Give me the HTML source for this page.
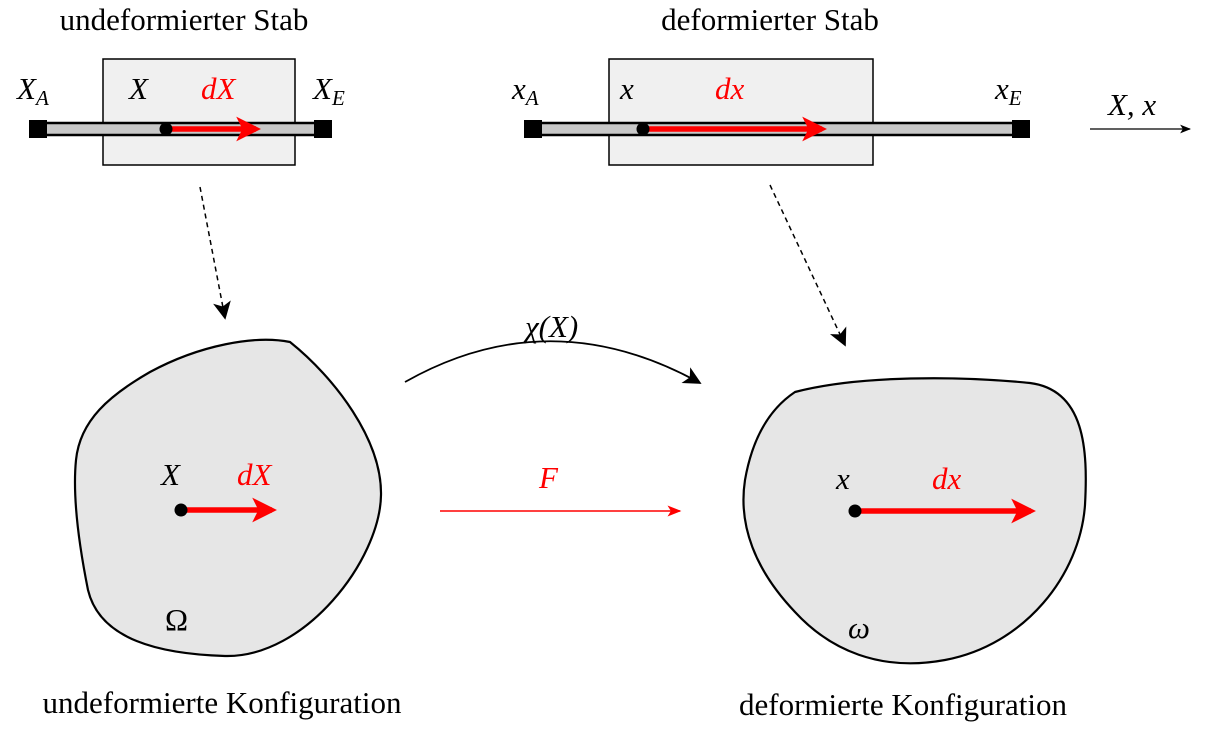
<!DOCTYPE html>
<html><head><meta charset="utf-8"><style>
html,body{margin:0;padding:0;background:#fff;}
svg{display:block;}
text{font-family:"Liberation Serif",serif;font-size:31px;fill:#000;}
.it{font-style:italic;}
.red{fill:#ff0000;}
</style></head><body>
<svg width="1208" height="731" viewBox="0 0 1208 731">
<defs>
<marker id="redHead" viewBox="0 0 10 10" refX="8" refY="5" markerWidth="4.5" markerHeight="4.5" orient="auto" markerUnits="strokeWidth">
<path d="M0,0 L10,5 L0,10 L2.5,5 Z" fill="#ff0000"/></marker>
<marker id="redThin" viewBox="0 0 10 10" refX="9" refY="5" markerWidth="14" markerHeight="14" orient="auto" markerUnits="userSpaceOnUse">
<path d="M0,1 L10,5 L0,9 L2.5,5 Z" fill="#ff0000"/></marker>
<marker id="blackHead" viewBox="0 0 10 10" refX="9" refY="5" markerWidth="18" markerHeight="18" orient="auto" markerUnits="userSpaceOnUse">
<path d="M0,0 L10,5 L0,10 L2.5,5 Z" fill="#000"/></marker>
<marker id="smallHead" viewBox="0 0 10 10" refX="9" refY="5" markerWidth="11" markerHeight="11" orient="auto" markerUnits="userSpaceOnUse">
<path d="M0,1 L10,5 L0,9 L2.5,5 Z" fill="#000"/></marker>
</defs>

<text x="184" y="30" text-anchor="middle">undeformierter Stab</text>
<rect x="103" y="59" width="192" height="106" fill="#f0f0f0" stroke="#000" stroke-width="1.5"/>
<rect x="38" y="123" width="285" height="12" fill="#c8c8c8" stroke="#000" stroke-width="2.5"/>
<rect x="29" y="120" width="18" height="18" fill="#000"/>
<rect x="314" y="120" width="18" height="18" fill="#000"/>
<line x1="166" y1="129" x2="256" y2="129" stroke="#ff0000" stroke-width="5.5" marker-end="url(#redHead)"/>
<circle cx="166" cy="129" r="6.5" fill="#000"/>
<text x="17" y="99" class="it">X<tspan font-size="21" dy="6" font-style="italic">A</tspan></text>
<text x="129" y="99" class="it">X</text>
<text x="201" y="99" class="it red">dX</text>
<text x="313" y="99" class="it">X<tspan font-size="21" dy="6" font-style="italic">E</tspan></text>

<text x="770" y="30" text-anchor="middle">deformierter Stab</text>
<rect x="609" y="59" width="264" height="106" fill="#f0f0f0" stroke="#000" stroke-width="1.5"/>
<rect x="533" y="123" width="488" height="12" fill="#c8c8c8" stroke="#000" stroke-width="2.5"/>
<rect x="524" y="120" width="18" height="18" fill="#000"/>
<rect x="1012" y="120" width="18" height="18" fill="#000"/>
<line x1="643" y1="129" x2="822" y2="129" stroke="#ff0000" stroke-width="5.5" marker-end="url(#redHead)"/>
<circle cx="643" cy="129" r="6.5" fill="#000"/>
<text x="512" y="99" class="it">x<tspan font-size="21" dy="6" font-style="italic">A</tspan></text>
<text x="620" y="99" class="it">x</text>
<text x="715" y="99" class="it red">dx</text>
<text x="995" y="99" class="it">x<tspan font-size="21" dy="6" font-style="italic">E</tspan></text>

<line x1="1090" y1="129" x2="1190" y2="129" stroke="#000" stroke-width="1.2" marker-end="url(#smallHead)"/>
<text x="1108" y="115" class="it">X,  x</text>

<line x1="200" y1="187" x2="225" y2="318" stroke="#000" stroke-width="1.5" stroke-dasharray="5,4" marker-end="url(#blackHead)"/>
<line x1="770" y1="185" x2="845" y2="345" stroke="#000" stroke-width="1.5" stroke-dasharray="5,4" marker-end="url(#blackHead)"/>

<path d="M290 342 C335 378,382 440,381 495 C380 560,305 658,225 656 C160 654,100 640,88 590 C80 550,72 500,76 460 C80 420,110 395,150 372 C200 345,255 335,290 342 Z" fill="#e6e6e6" stroke="#000" stroke-width="2.2"/>
<line x1="181" y1="510" x2="272" y2="510" stroke="#ff0000" stroke-width="5.5" marker-end="url(#redHead)"/>
<circle cx="181" cy="510" r="6.5" fill="#000"/>
<text x="161" y="485" class="it">X</text>
<text x="237" y="485" class="it red">dX</text>
<text x="165" y="630">Ω</text>
<text x="222" y="713" text-anchor="middle">undeformierte Konfiguration</text>

<path d="M795 392 C860 375,960 376,1030 383 C1085 390,1088 450,1085 505 C1080 575,1025 645,945 660 C880 672,830 650,795 612 C755 570,738 525,745 480 C752 440,768 410,795 392 Z" fill="#e6e6e6" stroke="#000" stroke-width="2.2"/>
<line x1="855" y1="511" x2="1031" y2="511" stroke="#ff0000" stroke-width="5.5" marker-end="url(#redHead)"/>
<circle cx="855" cy="511" r="6.5" fill="#000"/>
<text x="836" y="489" class="it">x</text>
<text x="932" y="489" class="it red">dx</text>
<text x="848" y="638" class="it">ω</text>
<text x="903" y="715" text-anchor="middle">deformierte Konfiguration</text>

<path d="M405 382 Q550 300 700 383" fill="none" stroke="#000" stroke-width="1.8" marker-end="url(#blackHead)"/>
<text x="525" y="337" class="it">χ(X)</text>
<line x1="440" y1="511" x2="680" y2="511" stroke="#ff0000" stroke-width="1.5" marker-end="url(#redThin)"/>
<text x="539" y="488" class="it red">F</text>
</svg>
</body></html>
